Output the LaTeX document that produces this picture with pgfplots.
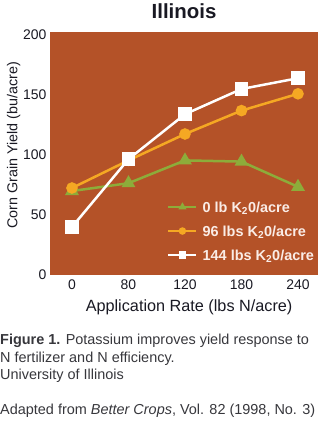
\documentclass[border=0pt]{standalone}
\usepackage{fontspec}
\setmainfont{Liberation Sans}
\usepackage{pgfplots}
\pgfplotsset{compat=1.18}
\definecolor{bg}{RGB}{180,82,40}
\definecolor{gr}{RGB}{141,172,58}
\definecolor{org}{RGB}{245,168,35}
\definecolor{lg}{RGB}{250,236,230}
\definecolor{txt}{RGB}{25,25,35}
\definecolor{cap}{RGB}{55,55,60}
\begin{document}
\begin{tikzpicture}
\useasboundingbox (0bp,0bp) rectangle (324bp,-424bp);
\begin{axis}[
  at={(50bp,-275bp)}, anchor=south west,
  scale only axis, width=268bp, height=243bp,
  xmin=-0.389, xmax=4.354, ymin=-0.5, ymax=202,
  axis background/.style={fill=bg},
  axis line style={draw=none},
  major tick length=0pt,
  xtick={0,1,2,3,4}, xticklabels={0,80,120,180,240},
  ytick={0,50,100,150,200},
  /pgf/number format/assume math mode=true,
  tick label style={font=\fontsize{14}{16}\selectfont, text=txt},
  xticklabel style={yshift=-1bp},
  yticklabel style={xshift=0bp},
  title={\textbf{Illinois}},
  title style={font=\fontsize{20.5}{22}\selectfont, text=txt,
    at={(axis description cs:0.5,1.032)}, anchor=base},
  xlabel={Application Rate (lbs N/acre)},
  ylabel={Corn Grain Yield (bu/acre)},
  xlabel style={font=\fontsize{16.3}{18}\selectfont, text=txt,
    at={(axis description cs:0.519,-0.132)}, anchor=center},
  ylabel style={font=\fontsize{14.4}{17}\selectfont, text=txt,
    at={(axis description cs:-0.136,0.533)}, anchor=center},
  legend style={at={(0.437,0.181)}, anchor=west, draw=none, fill=none,
    font=\fontsize{14.5}{16}\selectfont\bfseries, text=lg, row sep=13.5bp,
    inner sep=0pt, nodes={inner sep=0pt, text depth=0pt}},
  legend cell align=left,
  legend image code/.code={\draw[mark repeat=2,mark phase=2,line width=2.2bp, mark size=2.6bp]
     plot coordinates {(0bp,0bp) (14bp,0bp) (28bp,0bp)}; \path (33bp,0bp);},
  every axis plot/.append style={line width=2.5bp},
]
\addplot[gr, mark=triangle*, mark size=5.5bp] coordinates {(0,69.5) (1,76) (2,95) (3,94) (4,73)};
\addlegendentry{0 lb K\textsubscript{2}0/acre}
\addplot[org, mark=*, mark size=4.5bp] coordinates {(0,72) (1,95) (2,117) (3,136.5) (4,150.5)};
\addlegendentry{96 lbs K\textsubscript{2}0/acre}
\addplot[white, mark=square*, mark size=5.5bp] coordinates {(0,39.5) (1,96) (2,133.5) (3,154.5) (4,163.5)};
\addlegendentry{144 lbs K\textsubscript{2}0/acre}
\end{axis}
\node[anchor=north west, align=left, inner sep=0pt, text=cap,
  font=\fontsize{14.5}{17.5}\selectfont] at (0bp,-334bp)
  {\textbf{Figure 1.} Potassium improves yield response to\\
   N fertilizer and N efficiency.\\
   University of Illinois\\[17.5bp]
   Adapted from \textit{Better Crops}, Vol. 82 (1998, No. 3)};
\end{tikzpicture}
\end{document}
